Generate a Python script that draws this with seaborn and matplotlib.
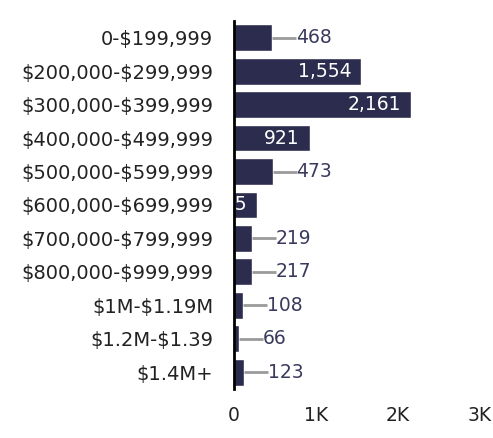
import pandas as pd
import matplotlib.pyplot as plt
import seaborn as sns

# price bands and number of homes sold
price_ranges = ['0-$199,999', '$200,000-$299,999', '$300,000-$399,999',
                '$400,000-$499,999', '$500,000-$599,999', '$600,000-$699,999',
                '$700,000-$799,999', '$800,000-$999,999', '$1M-$1.19M',
                '$1.2M-$1.39', '$1.4M+']
counts = [468, 1554, 2161, 921, 473, 285, 219, 217, 108, 66, 123]
# which bars carry their label inside
inside = [False, True, True, True, False, True, False, False, False, False, False]
x_ticks = [0, 1000, 2000, 3000]
x_tick_labels = ['0', '1K', '2K', '3K']

df = pd.DataFrame({'range': price_ranges, 'count': counts})

sns.set_style('white')
plt.rcParams['font.family'] = ['DejaVu Sans']
plt.rcParams['text.parse_math'] = False

bar_color = '#2c2c4e'
fig = plt.figure(figsize=(4.93, 4.38), dpi=100)
ax = fig.add_axes([0.4746, 0.112, 0.499, 0.840])

sns.barplot(data=df, x='count', y='range', orient='h', color=bar_color,
            width=0.8, saturation=1, ax=ax)

# value labels: white inside long bars, leader line + dark text for the rest
lead = 290
for i, (v, ins) in enumerate(zip(counts, inside)):
    if ins:
        ax.text(v - 120, i, f'{v:,}', color='white', fontsize=13.5,
                ha='right', va='center', clip_on=False)
    else:
        ax.plot([v, v + lead], [i, i], color='#9a9a9a', lw=2, solid_capstyle='butt')
        ax.text(v + lead, i, f'{v:,}', color='#3a3a5e', fontsize=13.5,
                ha='left', va='center')

ax.set_xlim(0, 3000)
ax.set_ylim(10.5, -0.5)
ax.set_xticks(x_ticks)
ax.set_xticklabels(x_tick_labels)
ax.set_xlabel('')
ax.set_ylabel('')
ax.tick_params(axis='y', length=0, pad=15, labelsize=14, labelcolor='#222222')
ax.tick_params(axis='x', length=0, pad=12, labelsize=13.5, labelcolor='#222222')
for s in ['top', 'right', 'bottom']:
    ax.spines[s].set_visible(False)
ax.spines['left'].set_color('black')
ax.spines['left'].set_linewidth(2)
ax.spines['left'].set_zorder(5)

plt.savefig('out.png', dpi=100)
